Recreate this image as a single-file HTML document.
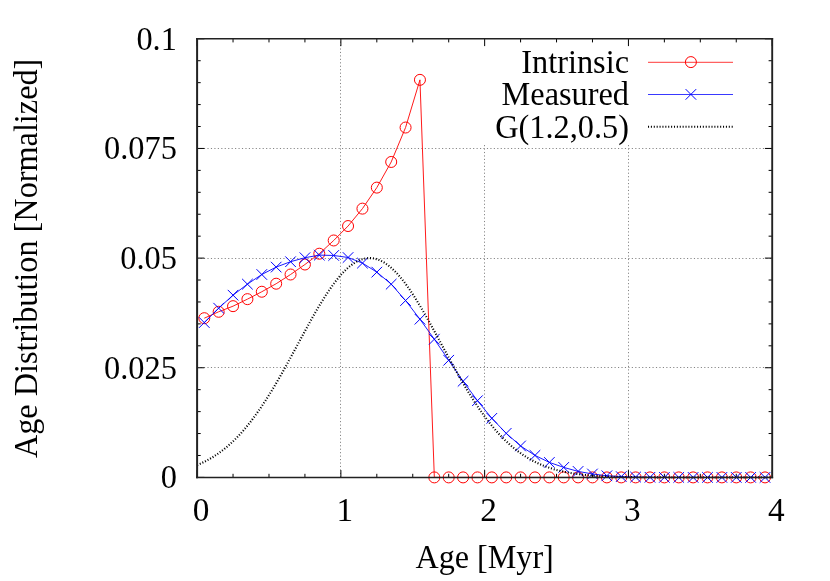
<!DOCTYPE html>
<html><head><meta charset="utf-8"><title>Age Distribution</title>
<style>html,body{margin:0;padding:0;background:#fff;}body{width:830px;height:581px;overflow:hidden;font-family:"Liberation Serif",serif;}svg{display:block;will-change:transform;}</style>
</head><body>
<svg width="830" height="581" viewBox="0 0 830 581">
<rect width="830" height="581" fill="#fff"/>
<path d="M197.10 367.50H772.20" stroke="#858585" stroke-width="1" stroke-dasharray="1.15 2.3" fill="none"/>
<path d="M197.10 258.50H772.20" stroke="#858585" stroke-width="1" stroke-dasharray="1.15 2.3" fill="none"/>
<path d="M197.10 148.50H772.20" stroke="#858585" stroke-width="1" stroke-dasharray="1.15 2.3" fill="none"/>
<path d="M340.50 477.4V38.8" stroke="#858585" stroke-width="1" stroke-dasharray="1.15 2.3" fill="none"/>
<path d="M484.50 477.4V144.2" stroke="#858585" stroke-width="1" stroke-dasharray="1.15 2.3" fill="none"/>
<path d="M628.50 477.4V144.2" stroke="#858585" stroke-width="1" stroke-dasharray="1.15 2.3" fill="none"/>
<path d="M197.10 477.4v-7.3M197.10 38.8v7.3M233.04 477.4v-3.6M233.04 38.8v3.6M268.99 477.4v-3.6M268.99 38.8v3.6M304.93 477.4v-3.6M304.93 38.8v3.6M340.88 477.4v-7.3M340.88 38.8v7.3M376.82 477.4v-3.6M376.82 38.8v3.6M412.76 477.4v-3.6M412.76 38.8v3.6M448.71 477.4v-3.6M448.71 38.8v3.6M484.65 477.4v-7.3M484.65 38.8v7.3M520.59 477.4v-3.6M520.59 38.8v3.6M556.54 477.4v-3.6M556.54 38.8v3.6M592.48 477.4v-3.6M592.48 38.8v3.6M628.43 477.4v-7.3M628.43 38.8v7.3M664.37 477.4v-3.6M664.37 38.8v3.6M700.31 477.4v-3.6M700.31 38.8v3.6M736.26 477.4v-3.6M736.26 38.8v3.6M772.20 477.4v-7.3M772.20 38.8v7.3M197.1 477.40h7.3M772.2 477.40h-7.3M197.1 455.47h3.6M772.2 455.47h-3.6M197.1 433.54h3.6M772.2 433.54h-3.6M197.1 411.61h3.6M772.2 411.61h-3.6M197.1 389.68h3.6M772.2 389.68h-3.6M197.1 367.75h7.3M772.2 367.75h-7.3M197.1 345.82h3.6M772.2 345.82h-3.6M197.1 323.89h3.6M772.2 323.89h-3.6M197.1 301.96h3.6M772.2 301.96h-3.6M197.1 280.03h3.6M772.2 280.03h-3.6M197.1 258.10h7.3M772.2 258.10h-7.3M197.1 236.17h3.6M772.2 236.17h-3.6M197.1 214.24h3.6M772.2 214.24h-3.6M197.1 192.31h3.6M772.2 192.31h-3.6M197.1 170.38h3.6M772.2 170.38h-3.6M197.1 148.45h7.3M772.2 148.45h-7.3M197.1 126.52h3.6M772.2 126.52h-3.6M197.1 104.59h3.6M772.2 104.59h-3.6M197.1 82.66h3.6M772.2 82.66h-3.6M197.1 60.73h3.6M772.2 60.73h-3.6M197.1 38.80h7.3M772.2 38.80h-7.3" stroke="#000" stroke-width="1" fill="none"/>
<polyline points="204.29,318.19 218.67,311.78 233.04,306.17 247.42,299.15 261.80,291.74 276.18,283.71 290.55,274.50 304.93,264.50 319.31,253.71 333.69,240.47 348.06,226.04 362.44,208.63 376.82,187.62 391.20,161.96 405.57,127.53 419.95,79.85 434.33,477.40 448.71,477.40 463.08,477.40 477.46,477.40 491.84,477.40 506.22,477.40 520.59,477.40 534.97,477.40 549.35,477.40 563.73,477.40 578.10,477.40 592.48,477.40 606.86,477.40 621.24,477.40 635.61,477.40 649.99,477.40 664.37,477.40 678.75,477.40 693.12,477.40 707.50,477.40 721.88,477.40 736.26,477.40 750.63,477.40 765.01,477.40" fill="none" stroke="#f00" stroke-width="0.9"/>
<circle cx="204.29" cy="318.19" r="5.5" fill="none" stroke="#f00" stroke-width="1"/>
<circle cx="218.67" cy="311.78" r="5.5" fill="none" stroke="#f00" stroke-width="1"/>
<circle cx="233.04" cy="306.17" r="5.5" fill="none" stroke="#f00" stroke-width="1"/>
<circle cx="247.42" cy="299.15" r="5.5" fill="none" stroke="#f00" stroke-width="1"/>
<circle cx="261.80" cy="291.74" r="5.5" fill="none" stroke="#f00" stroke-width="1"/>
<circle cx="276.18" cy="283.71" r="5.5" fill="none" stroke="#f00" stroke-width="1"/>
<circle cx="290.55" cy="274.50" r="5.5" fill="none" stroke="#f00" stroke-width="1"/>
<circle cx="304.93" cy="264.50" r="5.5" fill="none" stroke="#f00" stroke-width="1"/>
<circle cx="319.31" cy="253.71" r="5.5" fill="none" stroke="#f00" stroke-width="1"/>
<circle cx="333.69" cy="240.47" r="5.5" fill="none" stroke="#f00" stroke-width="1"/>
<circle cx="348.06" cy="226.04" r="5.5" fill="none" stroke="#f00" stroke-width="1"/>
<circle cx="362.44" cy="208.63" r="5.5" fill="none" stroke="#f00" stroke-width="1"/>
<circle cx="376.82" cy="187.62" r="5.5" fill="none" stroke="#f00" stroke-width="1"/>
<circle cx="391.20" cy="161.96" r="5.5" fill="none" stroke="#f00" stroke-width="1"/>
<circle cx="405.57" cy="127.53" r="5.5" fill="none" stroke="#f00" stroke-width="1"/>
<circle cx="419.95" cy="79.85" r="5.5" fill="none" stroke="#f00" stroke-width="1"/>
<circle cx="434.33" cy="477.40" r="5.5" fill="none" stroke="#f00" stroke-width="1"/>
<circle cx="448.71" cy="477.40" r="5.5" fill="none" stroke="#f00" stroke-width="1"/>
<circle cx="463.08" cy="477.40" r="5.5" fill="none" stroke="#f00" stroke-width="1"/>
<circle cx="477.46" cy="477.40" r="5.5" fill="none" stroke="#f00" stroke-width="1"/>
<circle cx="491.84" cy="477.40" r="5.5" fill="none" stroke="#f00" stroke-width="1"/>
<circle cx="506.22" cy="477.40" r="5.5" fill="none" stroke="#f00" stroke-width="1"/>
<circle cx="520.59" cy="477.40" r="5.5" fill="none" stroke="#f00" stroke-width="1"/>
<circle cx="534.97" cy="477.40" r="5.5" fill="none" stroke="#f00" stroke-width="1"/>
<circle cx="549.35" cy="477.40" r="5.5" fill="none" stroke="#f00" stroke-width="1"/>
<circle cx="563.73" cy="477.40" r="5.5" fill="none" stroke="#f00" stroke-width="1"/>
<circle cx="578.10" cy="477.40" r="5.5" fill="none" stroke="#f00" stroke-width="1"/>
<circle cx="592.48" cy="477.40" r="5.5" fill="none" stroke="#f00" stroke-width="1"/>
<circle cx="606.86" cy="477.40" r="5.5" fill="none" stroke="#f00" stroke-width="1"/>
<circle cx="621.24" cy="477.40" r="5.5" fill="none" stroke="#f00" stroke-width="1"/>
<circle cx="635.61" cy="477.40" r="5.5" fill="none" stroke="#f00" stroke-width="1"/>
<circle cx="649.99" cy="477.40" r="5.5" fill="none" stroke="#f00" stroke-width="1"/>
<circle cx="664.37" cy="477.40" r="5.5" fill="none" stroke="#f00" stroke-width="1"/>
<circle cx="678.75" cy="477.40" r="5.5" fill="none" stroke="#f00" stroke-width="1"/>
<circle cx="693.12" cy="477.40" r="5.5" fill="none" stroke="#f00" stroke-width="1"/>
<circle cx="707.50" cy="477.40" r="5.5" fill="none" stroke="#f00" stroke-width="1"/>
<circle cx="721.88" cy="477.40" r="5.5" fill="none" stroke="#f00" stroke-width="1"/>
<circle cx="736.26" cy="477.40" r="5.5" fill="none" stroke="#f00" stroke-width="1"/>
<circle cx="750.63" cy="477.40" r="5.5" fill="none" stroke="#f00" stroke-width="1"/>
<circle cx="765.01" cy="477.40" r="5.5" fill="none" stroke="#f00" stroke-width="1"/>
<polyline points="204.29,322.57 218.67,308.19 233.04,295.16 247.42,284.15 261.80,274.50 276.18,267.09 290.55,261.70 304.93,257.71 319.31,255.12 333.69,255.47 348.06,257.49 362.44,263.10 376.82,272.14 391.20,284.15 405.57,300.56 419.95,319.20 434.33,339.20 448.71,360.25 463.08,381.26 477.46,400.69 491.84,418.32 506.22,433.32 520.59,445.95 534.97,455.38 549.35,462.40 563.73,467.40 578.10,471.39 592.48,473.98 606.86,475.78 621.24,476.61 635.61,477.05 649.99,477.27 664.37,477.40 678.75,477.40 693.12,477.40 707.50,477.40 721.88,477.40 736.26,477.40 750.63,477.40 765.01,477.40" fill="none" stroke="#00f" stroke-width="0.9"/>
<path d="M198.99 317.27l10.6 10.6m-10.6 0l10.6 -10.6M213.37 302.89l10.6 10.6m-10.6 0l10.6 -10.6M227.74 289.86l10.6 10.6m-10.6 0l10.6 -10.6M242.12 278.85l10.6 10.6m-10.6 0l10.6 -10.6M256.50 269.20l10.6 10.6m-10.6 0l10.6 -10.6M270.88 261.79l10.6 10.6m-10.6 0l10.6 -10.6M285.25 256.40l10.6 10.6m-10.6 0l10.6 -10.6M299.63 252.41l10.6 10.6m-10.6 0l10.6 -10.6M314.01 249.82l10.6 10.6m-10.6 0l10.6 -10.6M328.39 250.17l10.6 10.6m-10.6 0l10.6 -10.6M342.76 252.19l10.6 10.6m-10.6 0l10.6 -10.6M357.14 257.80l10.6 10.6m-10.6 0l10.6 -10.6M371.52 266.84l10.6 10.6m-10.6 0l10.6 -10.6M385.90 278.85l10.6 10.6m-10.6 0l10.6 -10.6M400.27 295.26l10.6 10.6m-10.6 0l10.6 -10.6M414.65 313.90l10.6 10.6m-10.6 0l10.6 -10.6M429.03 333.90l10.6 10.6m-10.6 0l10.6 -10.6M443.41 354.95l10.6 10.6m-10.6 0l10.6 -10.6M457.78 375.96l10.6 10.6m-10.6 0l10.6 -10.6M472.16 395.39l10.6 10.6m-10.6 0l10.6 -10.6M486.54 413.02l10.6 10.6m-10.6 0l10.6 -10.6M500.92 428.02l10.6 10.6m-10.6 0l10.6 -10.6M515.29 440.65l10.6 10.6m-10.6 0l10.6 -10.6M529.67 450.08l10.6 10.6m-10.6 0l10.6 -10.6M544.05 457.10l10.6 10.6m-10.6 0l10.6 -10.6M558.43 462.10l10.6 10.6m-10.6 0l10.6 -10.6M572.80 466.09l10.6 10.6m-10.6 0l10.6 -10.6M587.18 468.68l10.6 10.6m-10.6 0l10.6 -10.6M601.56 470.48l10.6 10.6m-10.6 0l10.6 -10.6M615.94 471.31l10.6 10.6m-10.6 0l10.6 -10.6M630.31 471.75l10.6 10.6m-10.6 0l10.6 -10.6M644.69 471.97l10.6 10.6m-10.6 0l10.6 -10.6M659.07 472.10l10.6 10.6m-10.6 0l10.6 -10.6M673.45 472.10l10.6 10.6m-10.6 0l10.6 -10.6M687.82 472.10l10.6 10.6m-10.6 0l10.6 -10.6M702.20 472.10l10.6 10.6m-10.6 0l10.6 -10.6M716.58 472.10l10.6 10.6m-10.6 0l10.6 -10.6M730.96 472.10l10.6 10.6m-10.6 0l10.6 -10.6M745.33 472.10l10.6 10.6m-10.6 0l10.6 -10.6M759.71 472.10l10.6 10.6m-10.6 0l10.6 -10.6" fill="none" stroke="#00f" stroke-width="1"/>
<polyline points="197.10,465.09 198.54,464.49 199.98,463.86 201.41,463.21 202.85,462.53 204.29,461.83 205.73,461.10 207.16,460.34 208.60,459.56 210.04,458.74 211.48,457.90 212.92,457.03 214.35,456.12 215.79,455.19 217.23,454.22 218.67,453.22 220.10,452.19 221.54,451.12 222.98,450.02 224.42,448.89 225.85,447.72 227.29,446.52 228.73,445.27 230.17,444.00 231.61,442.68 233.04,441.33 234.48,439.94 235.92,438.51 237.36,437.05 238.79,435.54 240.23,434.00 241.67,432.42 243.11,430.80 244.55,429.14 245.98,427.44 247.42,425.70 248.86,423.92 250.30,422.11 251.73,420.25 253.17,418.36 254.61,416.43 256.05,414.46 257.49,412.45 258.92,410.40 260.36,408.32 261.80,406.20 263.24,404.05 264.67,401.86 266.11,399.64 267.55,397.38 268.99,395.09 270.43,392.77 271.86,390.42 273.30,388.04 274.74,385.63 276.18,383.20 277.61,380.74 279.05,378.25 280.49,375.74 281.93,373.21 283.37,370.66 284.80,368.08 286.24,365.50 287.68,362.89 289.12,360.28 290.55,357.65 291.99,355.01 293.43,352.36 294.87,349.71 296.30,347.05 297.74,344.39 299.18,341.73 300.62,339.07 302.06,336.42 303.49,333.77 304.93,331.13 306.37,328.51 307.81,325.89 309.24,323.29 310.68,320.71 312.12,318.16 313.56,315.62 315.00,313.11 316.43,310.63 317.87,308.17 319.31,305.75 320.75,303.37 322.18,301.02 323.62,298.71 325.06,296.45 326.50,294.23 327.94,292.05 329.37,289.93 330.81,287.85 332.25,285.83 333.69,283.87 335.12,281.96 336.56,280.12 338.00,278.33 339.44,276.61 340.88,274.96 342.31,273.38 343.75,271.86 345.19,270.42 346.63,269.05 348.06,267.75 349.50,266.53 350.94,265.39 352.38,264.33 353.81,263.34 355.25,262.44 356.69,261.62 358.13,260.89 359.57,260.24 361.00,259.67 362.44,259.19 363.88,258.80 365.32,258.49 366.75,258.28 368.19,258.14 369.63,258.10 371.07,258.14 372.51,258.28 373.94,258.49 375.38,258.80 376.82,259.19 378.26,259.67 379.69,260.24 381.13,260.89 382.57,261.62 384.01,262.44 385.45,263.34 386.88,264.33 388.32,265.39 389.76,266.53 391.20,267.75 392.63,269.05 394.07,270.42 395.51,271.86 396.95,273.38 398.38,274.96 399.82,276.61 401.26,278.33 402.70,280.12 404.14,281.96 405.57,283.87 407.01,285.83 408.45,287.85 409.89,289.93 411.32,292.05 412.76,294.23 414.20,296.45 415.64,298.71 417.08,301.02 418.51,303.37 419.95,305.75 421.39,308.17 422.83,310.63 424.26,313.11 425.70,315.62 427.14,318.16 428.58,320.71 430.02,323.29 431.45,325.89 432.89,328.51 434.33,331.13 435.77,333.77 437.20,336.42 438.64,339.07 440.08,341.73 441.52,344.39 442.96,347.05 444.39,349.71 445.83,352.36 447.27,355.01 448.71,357.65 450.14,360.28 451.58,362.89 453.02,365.50 454.46,368.08 455.89,370.66 457.33,373.21 458.77,375.74 460.21,378.25 461.65,380.74 463.08,383.20 464.52,385.63 465.96,388.04 467.40,390.42 468.83,392.77 470.27,395.09 471.71,397.38 473.15,399.64 474.59,401.86 476.02,404.05 477.46,406.20 478.90,408.32 480.34,410.40 481.77,412.45 483.21,414.46 484.65,416.43 486.09,418.36 487.53,420.25 488.96,422.11 490.40,423.92 491.84,425.70 493.28,427.44 494.71,429.14 496.15,430.80 497.59,432.42 499.03,434.00 500.47,435.54 501.90,437.05 503.34,438.51 504.78,439.94 506.22,441.33 507.65,442.68 509.09,444.00 510.53,445.27 511.97,446.52 513.41,447.72 514.84,448.89 516.28,450.02 517.72,451.12 519.16,452.19 520.59,453.22 522.03,454.22 523.47,455.19 524.91,456.12 526.34,457.03 527.78,457.90 529.22,458.74 530.66,459.56 532.10,460.34 533.53,461.10 534.97,461.83 536.41,462.53 537.85,463.21 539.28,463.86 540.72,464.49 542.16,465.09 543.60,465.67 545.04,466.23 546.47,466.76 547.91,467.27 549.35,467.76 550.79,468.24 552.22,468.69 553.66,469.12 555.10,469.54 556.54,469.93 557.98,470.31 559.41,470.68 560.85,471.02 562.29,471.35 563.73,471.67 565.16,471.97 566.60,472.26 568.04,472.54 569.48,472.80 570.92,473.05 572.35,473.29 573.79,473.51 575.23,473.73 576.67,473.93 578.10,474.13 579.54,474.31 580.98,474.49 582.42,474.66 583.85,474.81 585.29,474.96 586.73,475.11 588.17,475.24 589.61,475.37 591.04,475.49 592.48,475.60 593.92,475.71 595.36,475.81 596.79,475.91 598.23,476.00 599.67,476.09 601.11,476.17 602.55,476.25 603.98,476.32 605.42,476.39 606.86,476.45 608.30,476.51 609.73,476.57 611.17,476.62 612.61,476.68 614.05,476.72 615.49,476.77 616.92,476.81 618.36,476.85 619.80,476.89 621.24,476.92 622.67,476.95 624.11,476.98 625.55,477.01 626.99,477.04 628.43,477.06 629.86,477.09 631.30,477.11 632.74,477.13 634.18,477.15 635.61,477.17 637.05,477.18 638.49,477.20 639.93,477.21 641.36,477.23 642.80,477.24 644.24,477.25 645.68,477.26 647.12,477.27 648.55,477.28 649.99,477.29 651.43,477.30 652.87,477.31 654.30,477.31 655.74,477.32 657.18,477.33 658.62,477.33 660.06,477.34 661.49,477.34 662.93,477.35 664.37,477.35 665.81,477.35 667.24,477.36 668.68,477.36 670.12,477.36 671.56,477.37 673.00,477.37 674.43,477.37 675.87,477.37 677.31,477.38 678.75,477.38 680.18,477.38 681.62,477.38 683.06,477.38 684.50,477.39 685.93,477.39 687.37,477.39 688.81,477.39 690.25,477.39 691.69,477.39 693.12,477.39 694.56,477.39 696.00,477.39 697.44,477.39 698.87,477.39 700.31,477.39 701.75,477.39 703.19,477.40 704.63,477.40 706.06,477.40 707.50,477.40 708.94,477.40 710.38,477.40 711.81,477.40 713.25,477.40 714.69,477.40 716.13,477.40 717.57,477.40 719.00,477.40 720.44,477.40 721.88,477.40 723.32,477.40 724.75,477.40 726.19,477.40 727.63,477.40 729.07,477.40 730.51,477.40 731.94,477.40 733.38,477.40 734.82,477.40 736.26,477.40 737.69,477.40 739.13,477.40 740.57,477.40 742.01,477.40 743.45,477.40 744.88,477.40 746.32,477.40 747.76,477.40 749.20,477.40 750.63,477.40 752.07,477.40 753.51,477.40 754.95,477.40 756.38,477.40 757.82,477.40 759.26,477.40 760.70,477.40 762.14,477.40 763.57,477.40 765.01,477.40 766.45,477.40 767.89,477.40 769.32,477.40 770.76,477.40 772.20,477.40" fill="none" stroke="#000" stroke-width="2.1" stroke-dasharray="1.05 1.835"/>
<path d="M197.1 38.05V478.15" stroke="#222" stroke-width="2" fill="none"/>
<path d="M772.2 38.05V478.15" stroke="#222" stroke-width="1.9" fill="none"/>
<path d="M196.1 38.8H773.1500000000001" stroke="#222" stroke-width="1.5" fill="none"/>
<path d="M196.1 477.4H773.1500000000001" stroke="#222" stroke-width="1.5" fill="none"/>
<path d="M648 62.3H733" stroke="#f00" stroke-width="0.78" fill="none"/>
<circle cx="690.9" cy="62.1" r="5.5" fill="none" stroke="#f00" stroke-width="1"/>
<path d="M648 94.5H733" stroke="#00f" stroke-width="0.78" fill="none"/>
<path d="M685.6 89.10000000000001l10.6 10.6m-10.6 0l10.6 -10.6" stroke="#00f" stroke-width="1" fill="none"/>
<path d="M648 126.8H733" stroke="#000" stroke-width="2.1" stroke-dasharray="1.05 1.835" fill="none"/>
<g font-family="Liberation Serif, serif" font-size="32" fill="#000">
<text transform="translate(629.00 72.70) scale(1.01 1.035)" text-anchor="end">Intrinsic</text>
<text transform="translate(629.00 104.50) scale(1.01 1.035)" text-anchor="end">Measured</text>
<text transform="translate(629.00 137.90) scale(1.01 1.035)" text-anchor="end">G(1.2,0.5)</text>
<text transform="translate(176.90 49.70) scale(1.012 1.06)" text-anchor="end">0.1</text>
<text transform="translate(176.90 159.35) scale(1.012 1.06)" text-anchor="end">0.075</text>
<text transform="translate(176.90 269.00) scale(1.012 1.06)" text-anchor="end">0.05</text>
<text transform="translate(176.90 378.65) scale(1.012 1.06)" text-anchor="end">0.025</text>
<text transform="translate(176.90 488.30) scale(1.012 1.06)" text-anchor="end">0</text>
<text transform="translate(201.10 520.70) scale(1.04 1.045)" text-anchor="middle">0</text>
<text transform="translate(344.88 520.70) scale(1.04 1.045)" text-anchor="middle">1</text>
<text transform="translate(488.65 520.70) scale(1.04 1.045)" text-anchor="middle">2</text>
<text transform="translate(632.43 520.70) scale(1.04 1.045)" text-anchor="middle">3</text>
<text transform="translate(776.20 520.70) scale(1.04 1.045)" text-anchor="middle">4</text>
<text transform="translate(484.60 568.20) scale(1.005 1.04)" text-anchor="middle">Age [Myr]</text>
<text transform="translate(36.70 258.40) rotate(-90) scale(1.008 1.045)" text-anchor="middle">Age Distribution [Normalized]</text>
</g>
</svg>
</body></html>
